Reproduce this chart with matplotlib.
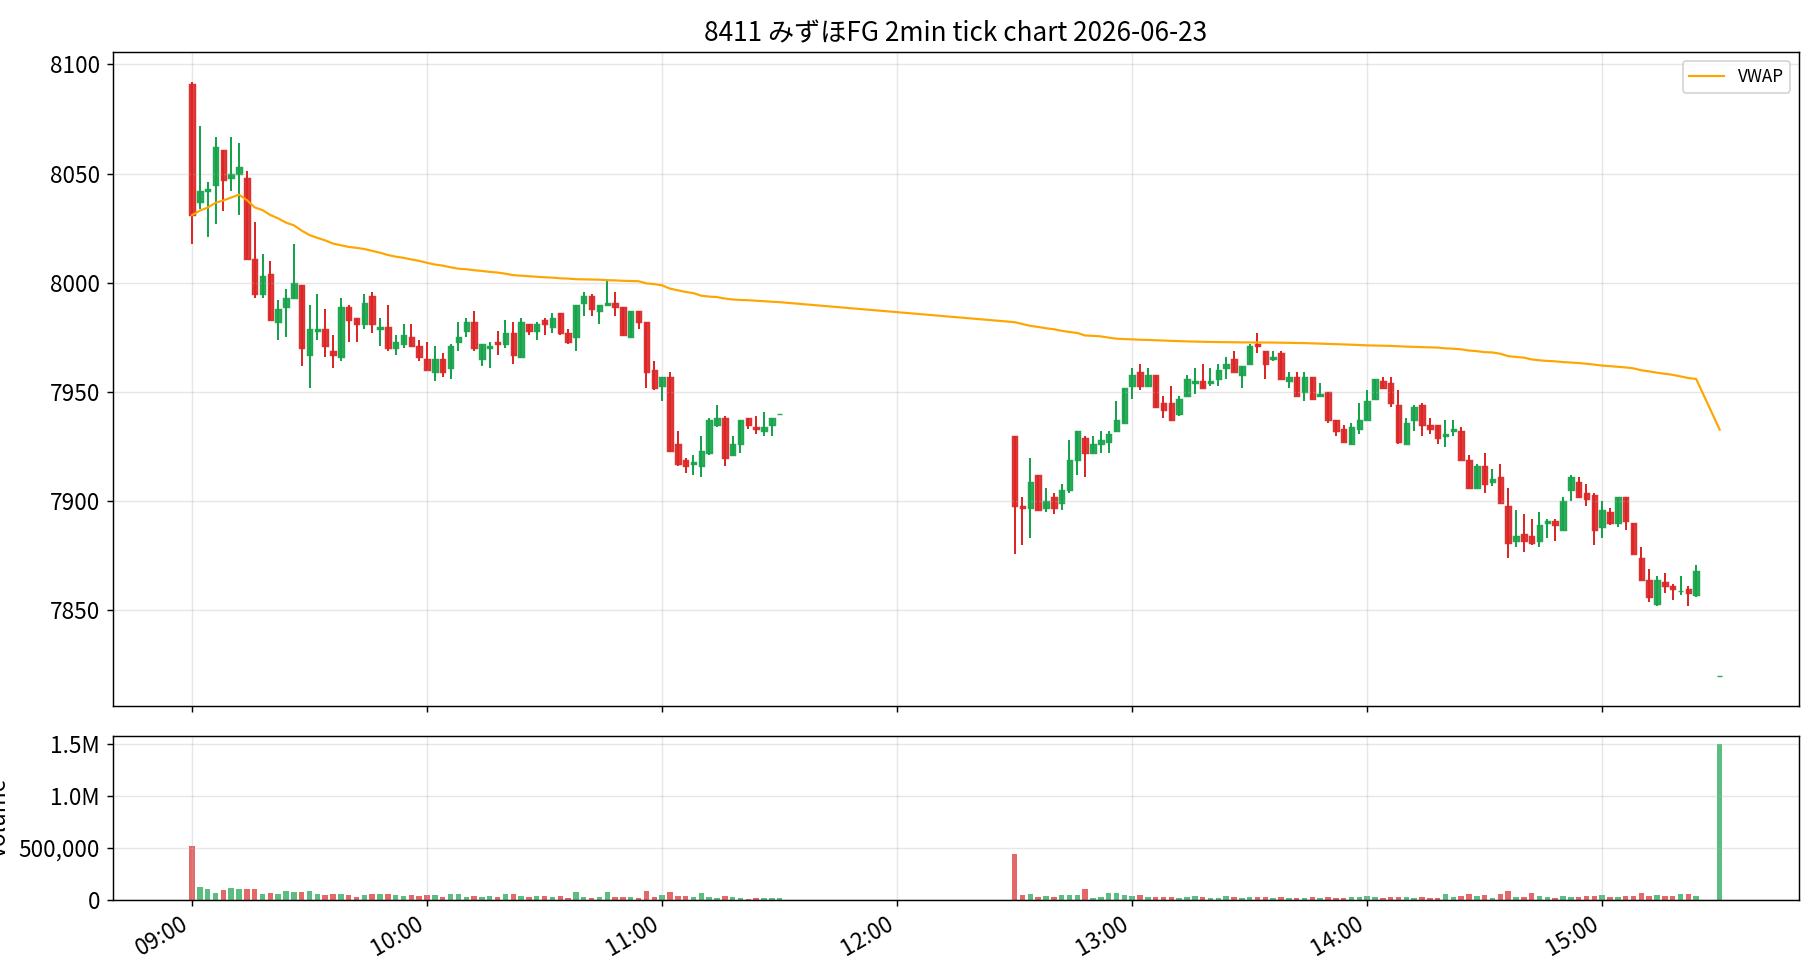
import numpy as np
import pandas as pd
import matplotlib
matplotlib.use("Agg")
import matplotlib.pyplot as plt
import matplotlib.dates as mdates
from matplotlib.ticker import FuncFormatter, MultipleLocator

plt.rcParams['font.family'] = ['Noto Sans CJK JP', 'DejaVu Sans']
plt.rcParams['font.size'] = 12.5

# bar start times: morning 09:00-11:30, afternoon 12:30-15:24, closing auction 15:30
times = (list(pd.date_range("2026-06-23 09:00", "2026-06-23 11:30", freq="2min"))
         + list(pd.date_range("2026-06-23 12:30", "2026-06-23 15:24", freq="2min"))
         + [pd.Timestamp("2026-06-23 15:30")])

am_open = [8091, 8037, 8042, 8045, 8061, 8048, 8050, 8048, 8011, 7995,
           8004, 7982, 7989, 7993, 7999, 7967, 7978, 7979, 7969, 7966,
           7989, 7984, 7981, 7994, 7979, 7980, 7970, 7972, 7975, 7971,
           7965, 7959, 7965, 7961, 7973, 7978, 7982, 7965, 7970, 7973,
           7972, 7977, 7966, 7981, 7978, 7983, 7980, 7986, 7977, 7975,
           7991, 7994, 7987, 7990, 7991, 7989, 7975, 7987, 7982, 7960,
           7953, 7957, 7926, 7919, 7917, 7916, 7922, 7935, 7938, 7921,
           7926, 7938, 7934, 7932, 7935, 7940]
am_high = [8092, 8072, 8046, 8067, 8061, 8067, 8064, 8051, 8028, 8013,
           8010, 7992, 7997, 8018, 7999, 7990, 7995, 7988, 7976, 7993,
           7990, 7984, 7995, 7996, 7984, 7990, 7976, 7981, 7981, 7974,
           7973, 7971, 7968, 7972, 7982, 7984, 7987, 7972, 7973, 7978,
           7983, 7982, 7984, 7981, 7982, 7984, 7986, 7986, 7979, 7990,
           7996, 7995, 7990, 8001, 7996, 7989, 7987, 7987, 7982, 7964,
           7957, 7959, 7932, 7920, 7921, 7930, 7938, 7944, 7939, 7930,
           7937, 7938, 7939, 7941, 7938, 7940]
am_low = [8018, 8034, 8021, 8027, 8033, 8042, 8031, 8011, 7993, 7993,
          7983, 7974, 7975, 7993, 7962, 7952, 7974, 7966, 7961, 7964,
          7973, 7973, 7979, 7977, 7971, 7969, 7967, 7970, 7971, 7964,
          7960, 7955, 7957, 7956, 7969, 7975, 7969, 7962, 7961, 7967,
          7970, 7963, 7966, 7976, 7974, 7976, 7977, 7976, 7972, 7969,
          7985, 7985, 7981, 7990, 7985, 7976, 7975, 7979, 7952, 7951,
          7946, 7923, 7916, 7913, 7912, 7911, 7921, 7934, 7916, 7921,
          7922, 7933, 7931, 7930, 7930, 7940]
am_close = [8031, 8042, 8043, 8062, 8047, 8050, 8053, 8011, 7995, 8003,
            7983, 7988, 7993, 8000, 7970, 7979, 7979, 7971, 7967, 7989,
            7983, 7981, 7991, 7981, 7980, 7970, 7973, 7976, 7971, 7966,
            7960, 7965, 7959, 7971, 7975, 7982, 7970, 7972, 7971, 7972,
            7977, 7967, 7982, 7978, 7981, 7981, 7984, 7977, 7973, 7990,
            7994, 7988, 7990, 7991, 7989, 7976, 7987, 7982, 7959, 7952,
            7957, 7923, 7917, 7916, 7918, 7923, 7937, 7938, 7920, 7926,
            7937, 7935, 7933, 7934, 7938, 7940]
am_vol = [516, 122, 103, 64, 93, 112, 103, 103, 103, 54,
          64, 54, 83, 74, 74, 83, 54, 45, 54, 54,
          45, 26, 45, 54, 54, 54, 45, 35, 45, 35,
          45, 45, 26, 54, 54, 26, 35, 26, 35, 26,
          54, 54, 35, 26, 35, 35, 26, 35, 16, 74,
          26, 16, 26, 74, 26, 26, 26, 16, 83, 26,
          45, 74, 35, 35, 26, 64, 26, 16, 35, 26,
          16, 8, 16, 16, 16, 16]

pm_open = [7930, 7898, 7897, 7912, 7897, 7902, 7899, 7905, 7919, 7929,
           7922, 7926, 7927, 7932, 7936, 7953, 7959, 7953, 7958, 7945,
           7945, 7940, 7948, 7954, 7955, 7954, 7956, 7961, 7965, 7958,
           7963, 7972, 7969, 7965, 7968, 7955, 7957, 7950, 7957, 7948,
           7950, 7937, 7933, 7926, 7933, 7937, 7947, 7955, 7954, 7944,
           7926, 7937, 7944, 7935, 7935, 7930, 7932, 7932, 7919, 7906,
           7916, 7909, 7911, 7898, 7882, 7885, 7884, 7882, 7890, 7891,
           7887, 7905, 7909, 7904, 7903, 7888, 7895, 7890, 7902, 7890,
           7874, 7864, 7853, 7863, 7861, 7859, 7860, 7857, 7820]
pm_high = [7930, 7902, 7920, 7912, 7906, 7904, 7908, 7928, 7932, 7930,
           7930, 7932, 7932, 7946, 7952, 7961, 7963, 7961, 7958, 7948,
           7953, 7948, 7958, 7961, 7963, 7961, 7963, 7966, 7969, 7962,
           7972, 7977, 7969, 7969, 7969, 7959, 7959, 7959, 7957, 7954,
           7950, 7937, 7935, 7936, 7945, 7951, 7956, 7957, 7957, 7951,
           7938, 7944, 7945, 7938, 7935, 7937, 7937, 7934, 7921, 7917,
           7922, 7915, 7917, 7906, 7896, 7894, 7892, 7895, 7892, 7892,
           7902, 7912, 7911, 7908, 7904, 7900, 7897, 7902, 7902, 7890,
           7879, 7869, 7866, 7867, 7862, 7866, 7861, 7871, 7820]
pm_low = [7876, 7880, 7883, 7896, 7895, 7894, 7896, 7904, 7912, 7911,
          7922, 7922, 7922, 7932, 7936, 7947, 7951, 7953, 7943, 7938,
          7937, 7939, 7948, 7949, 7952, 7953, 7953, 7956, 7959, 7952,
          7963, 7968, 7956, 7964, 7956, 7952, 7948, 7946, 7947, 7948,
          7936, 7930, 7927, 7926, 7931, 7937, 7947, 7952, 7943, 7926,
          7926, 7932, 7930, 7931, 7926, 7925, 7930, 7919, 7906, 7906,
          7904, 7907, 7899, 7874, 7879, 7877, 7880, 7879, 7883, 7882,
          7887, 7900, 7902, 7898, 7880, 7883, 7889, 7888, 7887, 7876,
          7864, 7854, 7852, 7858, 7855, 7857, 7852, 7856, 7820]
pm_close = [7898, 7897, 7909, 7896, 7900, 7897, 7905, 7919, 7932, 7922,
            7926, 7928, 7931, 7937, 7952, 7958, 7953, 7958, 7943, 7942,
            7937, 7947, 7956, 7955, 7952, 7955, 7960, 7963, 7959, 7962,
            7971, 7971, 7963, 7966, 7956, 7957, 7948, 7957, 7947, 7949,
            7937, 7932, 7927, 7934, 7937, 7946, 7956, 7952, 7945, 7927,
            7936, 7943, 7935, 7933, 7929, 7931, 7933, 7919, 7906, 7916,
            7908, 7910, 7899, 7881, 7884, 7882, 7881, 7889, 7891, 7889,
            7900, 7911, 7902, 7901, 7887, 7896, 7890, 7902, 7891, 7876,
            7864, 7856, 7864, 7861, 7860, 7859, 7858, 7868, 7820]
pm_vol = [439, 45, 54, 26, 35, 26, 45, 45, 45, 103,
          16, 26, 64, 64, 45, 35, 45, 26, 26, 26,
          26, 16, 26, 35, 26, 16, 16, 35, 26, 16,
          26, 26, 26, 16, 26, 16, 16, 16, 26, 16,
          26, 16, 16, 26, 26, 35, 26, 16, 26, 26,
          26, 16, 26, 16, 16, 54, 26, 35, 54, 35,
          45, 16, 54, 83, 26, 26, 64, 35, 26, 16,
          35, 26, 26, 35, 35, 45, 26, 26, 35, 35,
          64, 35, 45, 35, 35, 54, 54, 35, 1506]

o = np.array(am_open + pm_open, dtype=float)
h = np.array(am_high + pm_high, dtype=float)
l = np.array(am_low + pm_low, dtype=float)
c = np.array(am_close + pm_close, dtype=float)
v = np.array(am_vol + pm_vol, dtype=float) * 1000

x = mdates.date2num(times)
vwap = np.cumsum(c * v) / np.cumsum(v)

red = '#dc2626'
green = '#16a34a'
cols = np.where(c >= o, green, red)
w = 1.4 / 1440

fig = plt.figure(figsize=(14, 980 / 130), dpi=130)
ax = fig.add_axes([0.0619, 0.2799, 0.9266, 0.6668])
axv = fig.add_axes([0.0619, 0.0820, 0.9266, 0.1670], sharex=ax)

ax.vlines(x, l, h, colors=cols, linewidth=1.1)
ax.bar(x, np.abs(c - o), bottom=np.minimum(o, c), width=w, color=cols,
       edgecolor=cols, linewidth=0.8, alpha=0.9)
ax.plot(x, vwap, color='orange', linewidth=1.2, label='VWAP')
pad = (h.max() - l.min()) * 0.05
ax.set_ylim(l.min() - pad, h.max() + pad)
ax.legend(loc='upper right', fontsize=9.5)
ax.grid(True, alpha=0.3)
ax.set_title('8411 みずほFG 2min tick chart 2026-06-23', fontsize=14.5)
plt.setp(ax.get_xticklabels(), visible=False)

axv.bar(x, v, width=w, color=cols, alpha=0.7)
axv.set_ylim(0, v.max() * 1.05)
axv.yaxis.set_major_locator(MultipleLocator(500000))
axv.yaxis.set_major_formatter(FuncFormatter(
    lambda val, pos: f'{val / 1e6:.1f}M' if val >= 1e6 else f'{val:,.0f}'))
axv.set_ylabel('Volume')
axv.grid(True, alpha=0.3)
axv.xaxis.set_major_locator(mdates.HourLocator())
axv.xaxis.set_major_formatter(mdates.DateFormatter('%H:%M'))
plt.setp(axv.get_xticklabels(), rotation=30, ha='right')

fig.savefig('out.png', dpi=130)
